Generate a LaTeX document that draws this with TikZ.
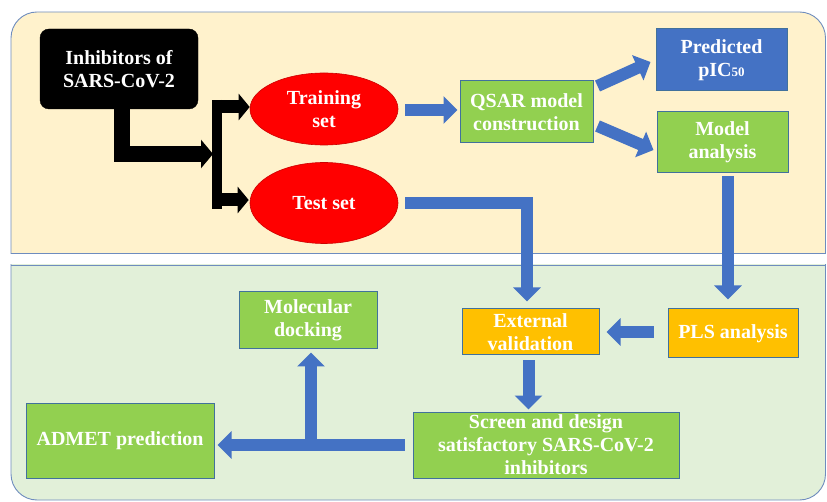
\documentclass[tikz,border=0pt]{standalone}
\usepackage{fontspec}
\setmainfont{Liberation Serif}
\usetikzlibrary{arrows.meta,calc,shapes.geometric}
\definecolor{pgreen}{HTML}{92D050}
\definecolor{pblue}{HTML}{4472C4}
\definecolor{porange}{HTML}{FFC000}
\definecolor{pedge}{HTML}{41719C}
\definecolor{topfill}{HTML}{FFF2CC}
\definecolor{botfill}{HTML}{E2F0D9}
\definecolor{panedge}{RGB}{110,140,190}
\definecolor{pred}{HTML}{FF0000}
\tikzset{
  txt/.style={font=\bfseries\fontsize{20}{23}\selectfont, text=white, align=center, inner sep=0pt},
  rbox/.style={txt, draw=pedge, line width=1pt},
  gbox/.style={rbox, fill=pgreen},
  obox/.style={rbox, fill=porange},
  bbox/.style={rbox, fill=pblue},
  ell/.style={txt, ellipse, fill=pred, draw=pred!80!black, line width=0.6pt},
  barrow/.style={draw=pblue, line width=12pt, line join=miter, -{Triangle[width=27pt,length=14pt]}},
  karrow/.style={draw=black, line width=16pt, line join=miter, -{Triangle[width=28pt,length=12pt]}},
  karrowb/.style={draw=black, line width=13pt, -{Triangle[width=26pt,length=11pt]}},
  panel/.style={draw=panedge, line width=0.9pt}
}
\begin{document}
\begin{tikzpicture}[x=1pt,y=-1pt]
\useasboundingbox (0,0) rectangle (827,502);
% panels
\begin{scope}
  \clip (0,0) rectangle (827,253.5);
  \draw[panel, fill=topfill, rounded corners=26] (11,12) rectangle (825.5,300);
\end{scope}
\draw[panel] (11,253) -- (825.5,253);
\begin{scope}
  \clip (0,264.5) rectangle (827,502);
  \draw[panel, fill=botfill, rounded corners=26] (11,220) rectangle (825.5,500);
\end{scope}
\draw[panel] (11,265) -- (825.5,265);

% nodes
\node[txt, fill=black, draw=black, rounded corners=9, minimum width=158pt, minimum height=80pt] (inh) at (119,69) {Inhibitors of\\SARS-CoV-2};
\node[ell, minimum width=148pt, minimum height=72pt] (train) at (324,109) {Training\\set};
\node[ell, minimum width=148pt, minimum height=81pt] (test) at (324,203) {Test set};
\node[gbox, minimum width=133pt, minimum height=62pt] (qsar) at (526.5,112) {QSAR model\\construction};
\node[bbox, minimum width=131pt, minimum height=62pt] (pic) at (721.5,60) {Predicted\\pIC{\fontsize{13}{13}\selectfont 50}};
\node[gbox, minimum width=131pt, minimum height=61pt] (model) at (722.5,142.5) {Model\\analysis};
\node[obox, minimum width=137pt, minimum height=46pt] (ext) at (530.5,332) {External\\validation};
\node[obox, minimum width=130pt, minimum height=49pt] (pls) at (733,333.5) {PLS analysis};
\node[gbox, minimum width=266pt, minimum height=66pt] (screen) at (546,445) {Screen and design\\satisfactory SARS-CoV-2\\inhibitors};
\node[gbox, minimum width=188pt, minimum height=75pt] (admet) at (120,440.5) {ADMET prediction};
\node[gbox, minimum width=138pt, minimum height=57pt] (mol) at (308,320.5) {Molecular\\docking};

% black connectors
\coordinate (split) at (217,154);
\draw[karrow] ($(inh.south)+(2.5,0)$) |- ($(split)+(-4,0)$);
\draw[black, line width=10pt] ($(train.west -| split)+(0,-9)$) -- ($(test.west -| split)+(0,6)$);
\draw[karrowb] ($(train.west -| split)+(-5,-2)$) -- ($(train.west)+(0,-2)$);
\draw[karrowb] ($(test.west -| split)+(-5,-3)$) -- ($(test.west)+(-1,-3)$);

% blue connectors
\draw[barrow] ($(train.east)+(7,1)$) -- ($(train.east -| qsar.west)+(-2,1)$);
\draw[barrow] ($(qsar.east)+(4,-26)$) -- ($(pic.west)+(-5,2)$);
\draw[barrow] ($(qsar.east)+(4,14)$) -- ($(model.west)+(-3,7.5)$);
\draw[barrow] ($(test.east)+(7,0)$) -| ($(ext.north)+(-3.5,-7)$);
\draw[barrow] ($(model.south)+(5.5,3)$) -- ($(model.south |- pls.north)+(5.5,-9)$);
\draw[barrow] ($(pls.west)+(-14,-1.5)$) -- ($(pls.west -| ext.east)+(7,-1.5)$);
\draw[barrow] ($(ext.south)+(-2,5)$) -- ($(ext.south |- screen.north)+(-2,-2)$);
\draw[barrow] ($(screen.west)+(-8,0)$) -- ($(screen.west -| admet.east)+(3,0)$);
\draw[barrow] ($(mol.south |- screen.west)+(3,-2)$) -- ($(mol.south)+(3,3)$);
\end{tikzpicture}
\end{document}
